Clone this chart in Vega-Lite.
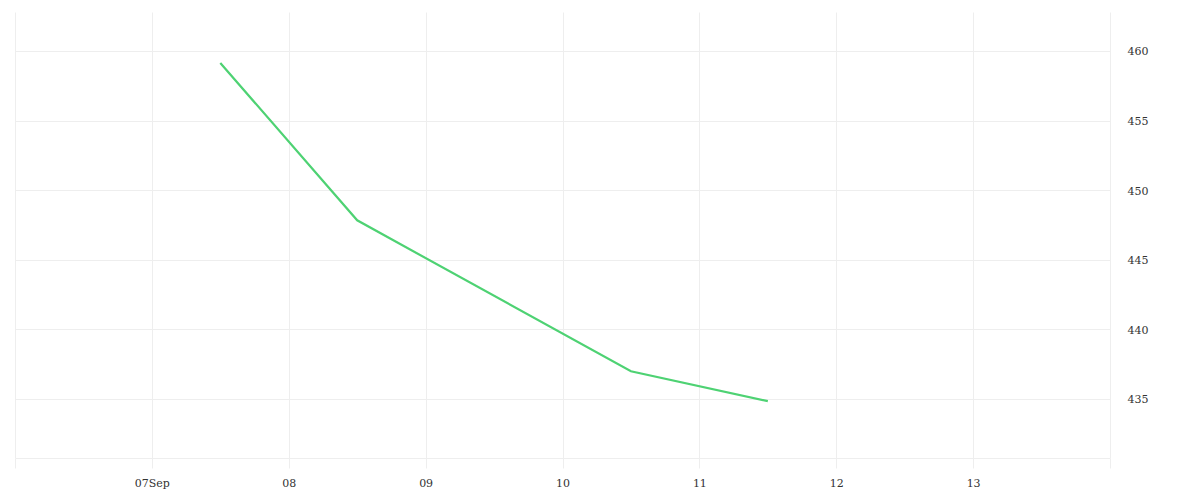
{
  "$schema": "https://vega.github.io/schema/vega-lite/v6.json",
  "width": 1095,
  "height": 446,
  "autosize": {"type": "none"},
  "padding": {"left": 15, "top": 12, "right": 90, "bottom": 42},
  "background": "white",
  "config": {
    "view": {"stroke": null},
    "axis": {
      "labelFont": "DejaVu Serif",
      "labelFontSize": 11,
      "labelColor": "#333333",
      "gridColor": "#eeeeee",
      "gridWidth": 1,
      "title": null
    }
  },
  "data": {
    "values": [
      {"time": "2020-09-07T12:00:00", "value": 459.14},
      {"time": "2020-09-08T12:00:00", "value": 447.83},
      {"time": "2020-09-10T12:00:00", "value": 436.98},
      {"time": "2020-09-11T12:00:00", "value": 434.84}
    ]
  },
  "mark": {"type": "line", "color": "#4ed273", "strokeWidth": 2.2, "clip": true},
  "encoding": {
    "x": {
      "field": "time",
      "type": "temporal",
      "scale": {"domain": [{"year": 2020, "month": 9, "date": 6}, {"year": 2020, "month": 9, "date": 14}]},
      "axis": {
        "values": [
          {"year": 2020, "month": 9, "date": 6},
          {"year": 2020, "month": 9, "date": 7},
          {"year": 2020, "month": 9, "date": 8},
          {"year": 2020, "month": 9, "date": 9},
          {"year": 2020, "month": 9, "date": 10},
          {"year": 2020, "month": 9, "date": 11},
          {"year": 2020, "month": 9, "date": 12},
          {"year": 2020, "month": 9, "date": 13},
          {"year": 2020, "month": 9, "date": 14}
        ],
        "labelExpr": "date(datum.value) == 6 || date(datum.value) == 14 ? '' : (date(datum.value) == 7 ? timeFormat(datum.value, '%dSep') : timeFormat(datum.value, '%d'))",
        "grid": true,
        "domain": true,
        "domainColor": "#eeeeee",
        "ticks": true,
        "tickColor": "#eeeeee",
        "tickSize": 10,
        "labelPadding": 9,
        "labelAngle": 0
      }
    },
    "y": {
      "field": "value",
      "type": "quantitative",
      "scale": {"domain": [430.75, 462.8], "nice": false, "zero": false},
      "axis": {
        "orient": "right",
        "values": [435, 440, 445, 450, 455, 460],
        "grid": true,
        "domain": false,
        "ticks": false,
        "labelPadding": 17,
        "labelBaseline": "middle",
        "labelOffset": 1
      }
    }
  }
}
